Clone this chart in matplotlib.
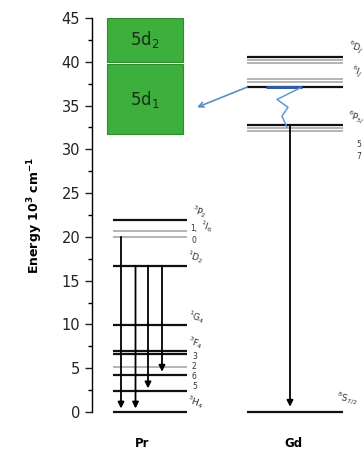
import matplotlib
matplotlib.use("Agg")
import matplotlib.pyplot as plt
from matplotlib.patches import Rectangle

# ---------------- data ----------------
pr_levels = [0.0, 2.4, 4.2, 5.1, 6.6, 7.0, 9.9, 16.7, 20.0, 20.65, 21.9]
pr_styles = ["k", "k", "k", "g", "k", "k", "k", "k", "g", "g", "k"]

gd_levels = [0.0, 32.1, 32.4, 32.8, 37.1, 37.7, 38.0, 39.9, 40.2, 40.5]
gd_styles = ["k", "g", "g", "k", "k", "g", "g", "g", "g", "k"]

d_bands = ["5d$_1$", "5d$_2$"]
d_low = [31.7, 40.0]
d_high = [39.7, 45.0]

# Pr emission arrows: (start energy, end energy)
pr_arrow_start = [20.0, 16.7, 16.7, 16.7]
pr_arrow_end = [0.4, 0.4, 2.7, 4.6]

gd_arrow_start = 32.8
gd_arrow_end = 0.6

# energy-transfer arrow Gd 6I -> 5d1
et_start = 37.1
et_end = 34.8
# nonradiative zigzag energies
zig_E = [37.0, 35.7, 34.8, 33.8, 32.5]

yticks = [0, 5, 10, 15, 20, 25, 30, 35, 40, 45]
categories = ["Pr", "Gd"]

# ---------------- layout ----------------
W, H = 364, 455
fig = plt.figure(figsize=(W / 100, H / 100), dpi=100)
ax = fig.add_axes([92 / W, (H - 412) / H, (W - 92) / W, 394 / H])
ax.set_xlim(92, 364)
ax.set_ylim(0, 45)

pr_x = (113, 187)
gd_x = (247, 343)
box_x = (107, 183)

col = {"k": ("#111111", 1.6), "g": ("#a0a0a0", 1.1)}

for E, s in zip(pr_levels, pr_styles):
    c, lw = col[s]
    ax.plot(pr_x, [E, E], color=c, lw=lw, solid_capstyle="butt", clip_on=False)
for E, s in zip(gd_levels, gd_styles):
    c, lw = col[s]
    ax.plot(gd_x, [E, E], color=c, lw=lw, solid_capstyle="butt", clip_on=False)

# 5d boxes
for name, lo, hi in zip(d_bands, d_low, d_high):
    ax.add_patch(Rectangle((box_x[0], lo), box_x[1] - box_x[0], hi - lo,
                           facecolor="#3daf3d", edgecolor="#2e8b2e", lw=0.8))
    ax.text((box_x[0] + box_x[1]) / 2, (lo + hi) / 2, name, ha="center", va="center",
            fontsize=12, color="#1a2e1a")

# Pr arrows
pr_arrow_x = [121, 135.5, 148, 162]
for x, e0, e1 in zip(pr_arrow_x, pr_arrow_start, pr_arrow_end):
    ax.annotate("", xy=(x, e1), xytext=(x, e0),
                arrowprops=dict(arrowstyle="-|>", color="black", lw=1.3,
                                mutation_scale=9, shrinkA=0, shrinkB=0))

# Gd arrow
ax.annotate("", xy=(290, gd_arrow_end), xytext=(290, gd_arrow_start),
            arrowprops=dict(arrowstyle="-|>", color="black", lw=1.3,
                            mutation_scale=9, shrinkA=0, shrinkB=0))

# energy transfer arrow
ax.annotate("", xy=(197, et_end), xytext=(247, et_start),
            arrowprops=dict(arrowstyle="->", color="#5b8fc4", lw=1.2,
                            mutation_scale=9, shrinkA=0, shrinkB=0))
# highlight on 6I level
ax.plot([266, 302], [et_start, et_start], color="#2f5d9a", lw=2.2, solid_capstyle="butt")
# zigzag
ax.plot([300, 277, 288, 282, 287], zig_E, color="#5b9bd5", lw=1.1)

# level labels (Pr)
lab_kw = dict(fontsize=6.5, color="#333333", ha="left", va="center")
small_kw = dict(fontsize=5.5, color="#333333", ha="left", va="center")
ax.text(190, 22.9, "$^3$P$_2$", rotation=-18, **lab_kw)
ax.text(190, 21.0, "1,", **small_kw)
ax.text(198, 21.2, "$^1$I$_6$", rotation=-18, **lab_kw)
ax.text(191, 19.6, "0", **small_kw)
ax.text(185, 17.7, "$^1$D$_2$", rotation=-18, **lab_kw)
ax.text(186, 10.9, "$^1$G$_4$", rotation=-18, **lab_kw)
ax.text(186, 7.9, "$^3$F$_4$", rotation=-18, **lab_kw)
ax.text(192, 6.3, "3", **small_kw)
ax.text(192, 5.2, "2", **small_kw)
ax.text(192, 4.0, "6", **small_kw)
ax.text(192, 2.9, "5", **small_kw)
ax.text(185, 1.2, "$^3$H$_4$", rotation=-18, **lab_kw)

# level labels (Gd)
ax.text(346, 41.6, "$^6$D$_J$", rotation=-18, **lab_kw)
ax.text(349, 38.9, "$^6$I$_J$", rotation=-18, **lab_kw)
ax.text(345, 33.6, "$^6$P$_{3/}$", rotation=-18, **lab_kw)
ax.text(356, 30.5, "5", **small_kw)
ax.text(356, 29.2, "7", **small_kw)
ax.text(335, 1.4, "$^8$S$_{7/2}$", rotation=-12, **lab_kw)

# axis styling
for s in ["top", "right", "bottom"]:
    ax.spines[s].set_visible(False)
ax.spines["left"].set_linewidth(1.0)
ax.set_yticks(yticks)
ax.set_yticks([y + 2.5 for y in yticks[:-1]], minor=True)
ax.tick_params(axis="y", which="major", length=5, width=1, labelsize=10.5, colors="#222222")
ax.tick_params(axis="y", which="minor", length=3, width=1)
ax.set_xticks([142, 293])
ax.set_xticklabels(categories, fontsize=8.5, fontweight="bold")
ax.tick_params(axis="x", length=0, pad=18)
ax.set_ylabel("Energy 10$^\\mathbf{3}$ cm$^\\mathbf{-1}$", fontsize=9, fontweight="bold",
              labelpad=12)

fig.savefig("out.png", dpi=100)
